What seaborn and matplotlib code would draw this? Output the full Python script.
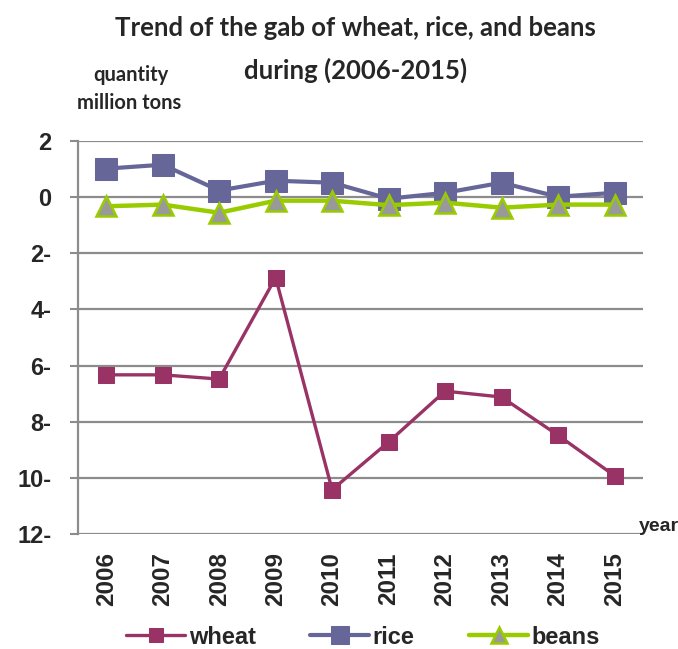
import matplotlib
matplotlib.use("Agg")
import matplotlib.pyplot as plt
import seaborn as sns
import pandas as pd
from matplotlib.ticker import FuncFormatter

# data
years = [2006, 2007, 2008, 2009, 2010, 2011, 2012, 2013, 2014, 2015]
wheat = [-6.33, -6.33, -6.48, -2.87, -10.42, -8.72, -6.91, -7.12, -8.48, -9.92]
rice = [1.01, 1.15, 0.23, 0.58, 0.51, -0.06, 0.15, 0.51, 0.01, 0.15]
beans = [-0.33, -0.27, -0.56, -0.13, -0.13, -0.29, -0.2, -0.38, -0.27, -0.27]

df = pd.DataFrame({"year": years, "wheat": wheat, "rice": rice, "beans": beans})

sns.set_style("white")
plt.rcParams["font.family"] = ["Liberation Sans", "DejaVu Sans"]

fig = plt.figure(figsize=(6.78, 6.49), dpi=100)
ax = fig.add_axes([0.115, 0.177, 0.833, 0.606])

# grid lines first, under the data
for v in range(-12, 3, 2):
    ax.axhline(v, color="#8c8c8c", lw=1.6, zorder=1)

sns.lineplot(data=df, x="year", y="wheat", ax=ax, color="#993366", lw=2.4,
             marker="s", markersize=12, markeredgecolor="#993366", label="wheat", zorder=3)
sns.lineplot(data=df, x="year", y="rice", ax=ax, color="#666699", lw=3,
             marker="s", markersize=16, markeredgecolor="#666699", label="rice", zorder=2)
sns.lineplot(data=df, x="year", y="beans", ax=ax, color="#99cc00", lw=3.2,
             marker="^", markersize=14, markerfacecolor="#999999",
             markeredgecolor="#99cc00", markeredgewidth=1.8, label="beans", zorder=4)

ax.set_xlim(2005.5, 2015.5)
ax.set_ylim(-12, 2)
ax.set_yticks(range(-12, 3, 2))
ax.yaxis.set_major_formatter(FuncFormatter(lambda v, p: f"{abs(int(v))}-" if v < 0 else f"{int(v)}"))
ax.set_xticks(years)
ax.set_xticklabels([str(y) for y in years], rotation=90, fontsize=17.5, fontweight="bold")
for t in ax.get_yticklabels():
    t.set_fontsize(17)
    t.set_fontweight("bold")
ax.tick_params(axis="y", length=6, color="#8c8c8c", width=1.5, pad=13, left=True)
ax.tick_params(axis="x", length=0, pad=13)
ax.set_xlabel("")
ax.set_ylabel("")

for s in ["top", "right", "bottom"]:
    ax.spines[s].set_visible(False)
ax.spines["left"].set_color("#8c8c8c")
ax.spines["left"].set_linewidth(1.6)

fig.text(0.524, 0.957, "Trend of the gab of wheat, rice, and beans", ha="center", va="center",
         fontsize=18.5, fontweight="bold", family="Lato")
fig.text(0.524, 0.892, "during (2006-2015)", ha="center", va="center",
         fontsize=18.5, fontweight="bold", family="Lato")
fig.text(0.193, 0.884, "quantity", ha="center", va="center", fontsize=14.5, fontweight="bold", family="Lato")
fig.text(0.19, 0.841, "million tons", ha="center", va="center", fontsize=14.5, fontweight="bold", family="Lato")
fig.text(0.943, 0.188, "year", ha="left", va="center", fontsize=14, fontweight="bold")

ax.legend(loc="center", bbox_to_anchor=(0.505, -0.262), ncol=3, frameon=False,
          handlelength=2.5, numpoints=1, columnspacing=2.3, handletextpad=0.15,
          markerscale=0.85, prop={"size": 17, "weight": "bold"})

fig.savefig("out.png", dpi=100)
